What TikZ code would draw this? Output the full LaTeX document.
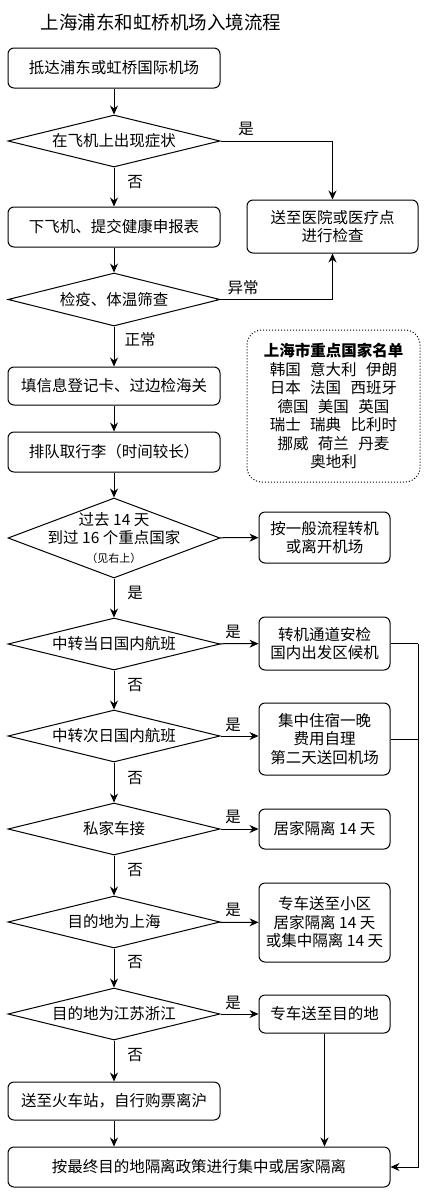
\documentclass[tikz,border=0pt]{standalone}
\usepackage{fontspec}
\setmainfont{Noto Sans CJK SC}
\usetikzlibrary{shapes.geometric,arrows.meta}
\begin{document}
\begin{tikzpicture}[x=1pt,y=-1pt,
  every node/.style={font=\fontsize{15.5}{18.5}\selectfont},
  box/.style={draw, rounded corners=6pt, line width=1pt, align=center, inner sep=0pt},
  dia/.style={draw, diamond, line width=1pt, inner sep=0pt, minimum width=212pt},
  dtext/.style={label={[align=center, inner sep=0pt]center:#1}},
  arr/.style={-{Stealth[length=9pt,width=8pt]}, line width=1pt},
  ln/.style={line width=1pt},
  lab/.style={inner sep=0pt}]
\useasboundingbox (0,0) rectangle (428,1200);
\fill[white] (0,0) rectangle (428,1200);

\node[font=\fontsize{18.5}{22}\selectfont] (title) at (161,22) {上海浦东和虹桥机场入境流程};

% left column
\node[box, minimum width=212pt, minimum height=40pt] (b1) at (114,68) {抵达浦东或虹桥国际机场};
\node[dia, minimum height=52pt, dtext={在飞机上出现症状}] (d1) at (114,141) {};
\node[box, minimum width=212pt, minimum height=40pt] (b2) at (114,227) {下飞机、提交健康申报表};
\node[dia, minimum height=53pt, dtext={检疫、体温筛查}] (d2) at (114,299.5) {};
\node[box, minimum width=212pt, minimum height=38pt] (b3) at (114,386) {填信息登记卡、过边检海关};
\node[box, minimum width=212pt, minimum height=40pt] (b4) at (114,452) {排队取行李（时间较长）};
\node[dia, minimum height=80pt, dtext={过去 14 天\\到过 16 个重点国家\\{\fontsize{11}{13}\selectfont （见右上）}}] (d3) at (114,538) {};
\node[dia, minimum height=52pt, dtext={中转当日国内航班}] (d4) at (114,644) {};
\node[dia, minimum height=52pt, dtext={中转次日国内航班}] (d5) at (114,736) {};
\node[dia, minimum height=52pt, dtext={私家车接}] (d6) at (114,829) {};
\node[dia, minimum height=52pt, dtext={目的地为上海}] (d7) at (114,922) {};
\node[dia, minimum height=52pt, dtext={目的地为江苏浙江}] (d8) at (114,1014) {};
\node[box, minimum width=212pt, minimum height=38pt] (b5) at (114,1101) {送至火车站，自行购票离沪};
\node[box, minimum width=382pt, minimum height=40pt] (fin) at (199,1167) {按最终目的地隔离政策进行集中或居家隔离};

% right column
\node[box, minimum width=171pt, minimum height=53pt] (hosp) at (332.5,226.5) {送至医院或医疗点\\进行检查};
\node[draw, dotted, line width=1pt, rounded corners=15pt, minimum width=173pt, minimum height=152pt, inner sep=0pt, align=center] (list) at (333.5,406)
  {\textbf{上海市重点国家名单}\\韩国\hspace{0.6em}意大利\hspace{0.6em}伊朗\\日本\hspace{0.6em}法国\hspace{0.6em}西班牙\\德国\hspace{0.6em}美国\hspace{0.6em}英国\\瑞士\hspace{0.6em}瑞典\hspace{0.6em}比利时\\挪威\hspace{0.6em}荷兰\hspace{0.6em}丹麦\\奥地利};
\node[box, minimum width=131pt, minimum height=51pt] (r3) at (324.5,537.5) {按一般流程转机\\或离开机场};
\node[box, minimum width=131pt, minimum height=53pt] (r4) at (324.5,643.5) {转机通道安检\\国内出发区候机};
\node[box, minimum width=131pt, minimum height=72pt] (r5) at (324.5,739) {集中住宿一晚\\费用自理\\第二天送回机场};
\node[box, minimum width=131pt, minimum height=40pt] (r6) at (324.5,829) {居家隔离 14 天};
\node[box, minimum width=131pt, minimum height=79pt] (r7) at (324.5,922.5) {专车送至小区\\居家隔离 14 天\\或集中隔离 14 天};
\node[box, minimum width=131pt, minimum height=38pt] (r8) at (324.5,1014) {专车送至目的地};

\coordinate (rail1) at (418,643.5);
\coordinate (rail2) at (418,1167);

% connectors
\draw[arr] (b1) -- (d1);
\draw[arr] (d1.east) -| (hosp.north);
\draw[arr] (d1) -- (b2);
\draw[arr] (b2) -- (d2);
\draw[arr] (d2.east) -| (hosp.south);
\draw[arr] (d2) -- (b3);
\draw[arr] (b3) -- (b4);
\draw[arr] (b4) -- (d3);
\draw[arr] (d3) -- (r3);
\draw[arr] (d3) -- (d4);
\draw[arr] (d4) -- (r4);
\draw[arr] (d4) -- (d5);
\draw[arr] (d5.east) -- (r5.west |- d5.east);
\draw[arr] (d5) -- (d6);
\draw[arr] (d6) -- (r6);
\draw[arr] (d6) -- (d7);
\draw[arr] (d7) -- (r7);
\draw[arr] (d7) -- (d8);
\draw[arr] (d8) -- (r8);
\draw[arr] (d8) -- (b5);
\draw[arr] (b5) -- (b5 |- fin.north);
\draw[arr] (r8.south) -- (r8.south |- fin.north);
\draw[ln] (r4.east) -- (rail1);
\draw[ln] (r5.east) -- (r5.east -| rail1);
\draw[arr] (rail1) -- (rail2) -- (fin.east);

% labels
\node[lab] (l1) at (246,129) {是};
\node[lab] (l2) at (135,182) {否};
\node[lab] (l3) at (243,288) {异常};
\node[lab] (l4) at (140,340) {正常};
\node[lab] (l5) at (135,593) {是};
\node[lab] (l6) at (233,632) {是};
\node[lab] (l7) at (135,685) {否};
\node[lab] (l8) at (233,725) {是};
\node[lab] (l9) at (135,778) {否};
\node[lab] (l10) at (233,817) {是};
\node[lab] (l11) at (135,870) {否};
\node[lab] (l12) at (233,910) {是};
\node[lab] (l13) at (135,962) {否};
\node[lab] (l14) at (233,1003) {是};
\node[lab] (l15) at (135,1055) {否};
\end{tikzpicture}
\end{document}
